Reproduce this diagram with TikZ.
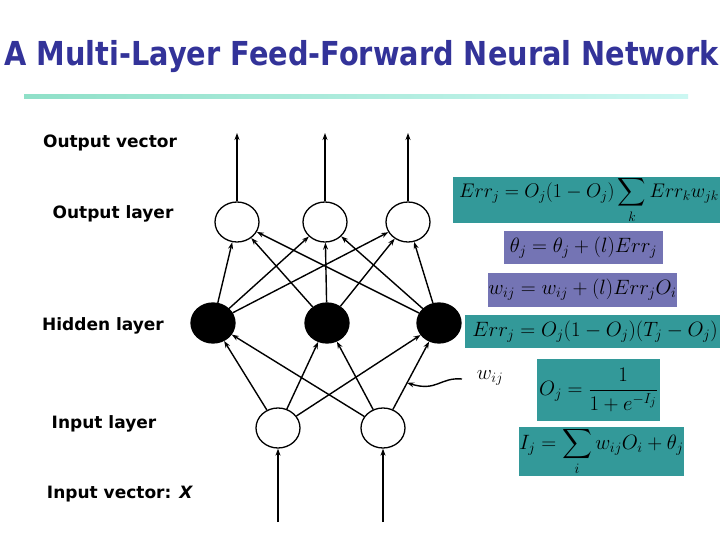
\documentclass[tikz,border=0pt]{standalone}
\usepackage{exscale}
\usepackage{fontspec}
\setsansfont{DejaVu Sans}
\usetikzlibrary{shapes.geometric,arrows.meta,calc}
\definecolor{titleblue}{HTML}{333399}
\definecolor{eqteal}{HTML}{339999}
\definecolor{eqpurple}{HTML}{7474B4}
\definecolor{lineL}{HTML}{8FE0C8}
\definecolor{lineR}{HTML}{CCF7F2}
\tikzset{
  neuron/.style={ellipse,draw,line width=1.3pt,minimum width=44pt,minimum height=40pt,inner sep=0pt,fill=white},
  hid/.style={neuron,fill=black},
  conn/.style={line width=1.4pt,-{Stealth[length=7pt,width=5pt]}},
  lab/.style={font=\sffamily\bfseries\fontsize{17}{20}\selectfont,inner sep=0pt},
  eqbox/.style={fill=#1,inner sep=0pt,font=\fontsize{20.74}{24}\selectfont},
}
\begin{document}
\begin{tikzpicture}[x=1pt,y=-1pt]
\useasboundingbox (0,0) rectangle (720,540);
\fill[white] (0,0) rectangle (720,540);
% title
\node[font=\sffamily\bfseries\fontsize{33}{38}\selectfont,text=titleblue,inner sep=0pt] (title) at (361.5,57) {\scalebox{0.872}[1]{A Multi-Layer Feed-Forward Neural Network}};
\shade[left color=lineL,right color=lineR] (24,95) rectangle (688,99);
% labels
\node[lab] (lov) at (110,143) {Output vector};
\node[lab] (lol) at (113,214) {Output layer};
\node[lab] (lhl) at (103,326) {Hidden layer};
\node[lab] (lil) at (104,424) {Input layer};
\node[lab] (liv) at (120,494) {Input vector: \textit{X}};
% neurons
\node[neuron] (o1) at (237,222) {};
\node[neuron] (o2) at (325,222) {};
\node[neuron] (o3) at (408,222) {};
\node[hid] (h1) at (213,323) {};
\node[hid] (h2) at (327,323) {};
\node[hid] (h3) at (439,323) {};
\node[neuron] (i1) at (278,428) {};
\node[neuron] (i2) at (383,428) {};
% output / input arrows
\coordinate (ot1) at (237,133);
\coordinate (ot2) at (325,133);
\coordinate (ot3) at (408,133);
\coordinate (ib1) at (278,522);
\coordinate (ib2) at (383,522);
\foreach \k in {1,2,3} \draw[conn] (o\k) -- (ot\k);
\foreach \k in {1,2} \draw[conn] (ib\k) -- (i\k);
\foreach \h in {1,2,3} \foreach \o in {1,2,3} \draw[conn] (h\h) -- (o\o);
\foreach \i in {1,2} \foreach \h in {1,2,3} \draw[conn] (i\i) -- (h\h);
% w_ij annotation
\coordinate (wpt) at ($(i2)!0.43!(h3)$);
\coordinate (wst) at (462,379);
\draw[line width=1.4pt,-{Stealth[length=7pt,width=5pt]}] (wst) .. controls (440,377) and (437,392) .. (wpt);
\node[font=\fontsize{20.74}{24}\selectfont,inner sep=0pt] (wl) at (490,378) {$w_{ij}$};
% equations
\node[eqbox=eqteal,minimum width=272pt,minimum height=46pt] (e1) at (589,200) {\scalebox{0.95}{$\displaystyle Err_j = O_j(1-O_j)\sum_k Err_k w_{jk}$}};
\node[eqbox=eqpurple,minimum width=159pt,minimum height=33pt] (e2) at (583.5,247.5) {$\theta_j = \theta_j + (l)Err_j$};
\node[eqbox=eqpurple,minimum width=189pt,minimum height=34pt] (e3) at (582.5,290) {$w_{ij} = w_{ij} + (l)Err_j O_i$};
\node[eqbox=eqteal,minimum width=260pt,minimum height=33pt] (e4) at (595,331.5) {$Err_j = O_j(1-O_j)(T_j-O_j)$};
\node[eqbox=eqteal,minimum width=123pt,minimum height=62pt] (e5) at (598.5,390) {$\displaystyle O_j = \frac{1}{1+e^{-I_j}}$};
\node[eqbox=eqteal,minimum width=165pt,minimum height=45pt] (e6) at (601.5,451.5) {$\displaystyle I_j = \sum_i w_{ij}O_i + \theta_j$};
\end{tikzpicture}
\end{document}
